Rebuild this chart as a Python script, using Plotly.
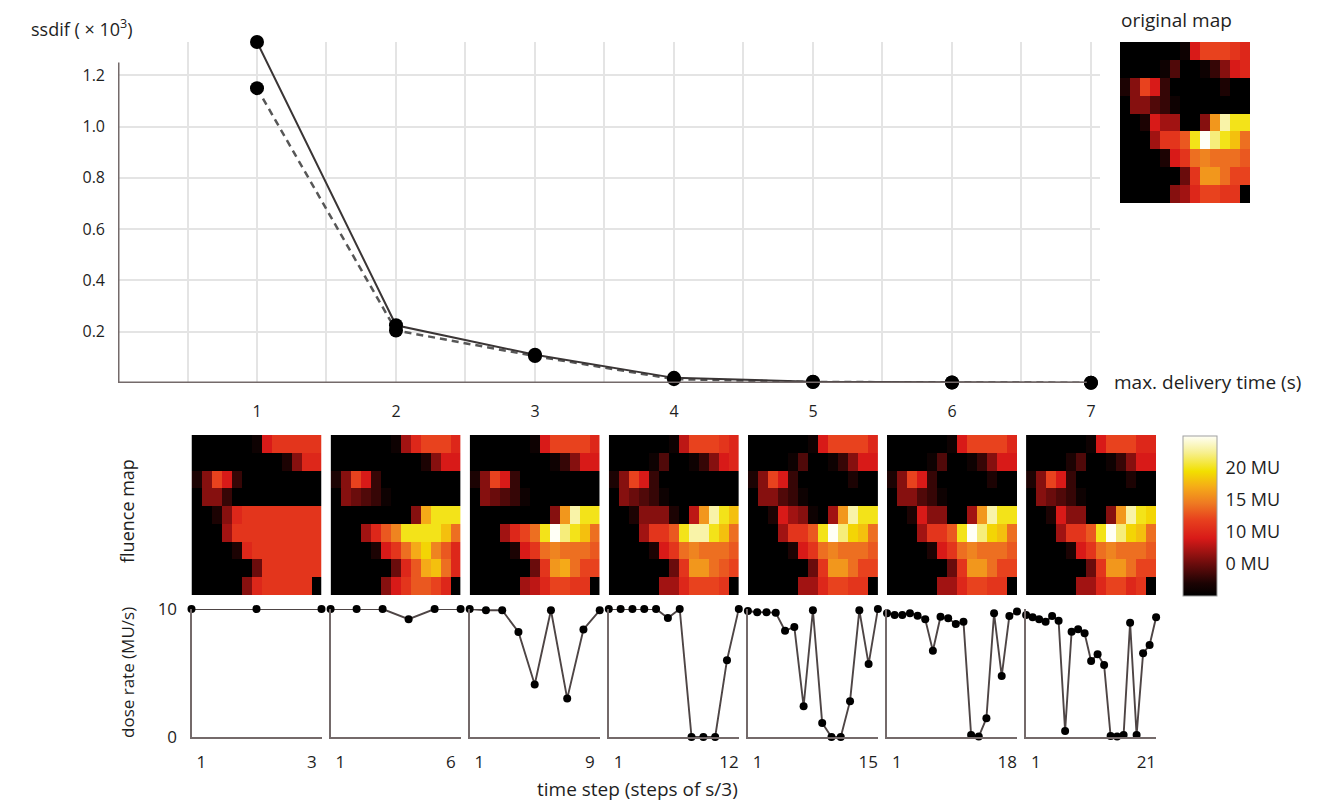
import plotly.graph_objects as go

# ---------------- data ----------------
max_time = [1, 2, 3, 4, 5, 6, 7]
ssdif_solid = [1.33, 0.225, 0.11, 0.02, 0.005, 0.002, 0.001]
ssdif_dashed = [1.15, 0.205, 0.105, 0.015, 0.004, 0.002, 0.001]
ssdif_ticks = [0.2, 0.4, 0.6, 0.8, 1.0, 1.2]

dose_t1 = [10, 10, 10]
dose_t2 = [10, 10, 10, 9.2, 10, 10]
dose_t3 = [10, 9.9, 9.9, 8.2, 4.1, 9.9, 3.0, 8.4, 9.9]
dose_t4 = [10, 10, 10, 10, 10, 9.3, 10, 0, 0, 0, 6.0, 10]
dose_t5 = [9.85, 9.75, 9.75, 9.7, 8.3, 8.6, 2.4, 9.9, 1.1, 0, 0, 2.8, 9.9, 5.7, 10]
dose_t6 = [9.66, 9.53, 9.53, 9.66, 9.48, 9.19, 6.74, 9.4, 9.27, 8.83, 9.0, 0.16,
           0.03, 1.46, 9.66, 4.77, 9.45, 9.8]
dose_t7 = [9.53, 9.35, 9.19, 9.0, 9.45, 9.09, 0.47, 8.23, 8.41, 8.1, 5.94, 6.46,
           5.63, 0.08, 0.03, 0.16, 8.93, 0.16, 6.54, 7.19, 9.35]

map_orig = [
    [0, 0, 0, 0, 0, 0, 1, 9, 12, 12, 12, 11, 10],
    [0, 0, 0, 0, 1, 4, 0, 0, 1, 3, 6, 9, 10],
    [2, 6, 12, 9, 3, 0, 0, 0, 0, 0, 2, 0, 0],
    [0, 6, 6, 4, 3, 1, 0, 0, 0, 0, 0, 0, 0],
    [0, 0, 2, 9, 7, 7, 0, 0, 6, 16, 23, 20, 20],
    [0, 0, 0, 7, 11, 11, 13, 20, 25, 22, 20, 18, 14],
    [0, 0, 0, 0, 2, 9, 11, 14, 15, 14, 14, 14, 13],
    [0, 0, 0, 0, 0, 0, 5, 11, 16, 16, 14, 12, 12],
    [0, 0, 0, 0, 0, 6, 7, 10, 12, 12, 11, 11, 0],
]
map_t1 = [
    [0, 0, 0, 0, 0, 0, 1, 9, 11, 11, 11, 11, 11],
    [0, 0, 0, 0, 0, 0, 0, 0, 0, 2, 6, 10, 10],
    [2, 6, 12, 9, 3, 0, 0, 0, 0, 0, 0, 0, 0],
    [0, 6, 6, 3, 0, 0, 0, 0, 0, 0, 0, 0, 0],
    [0, 0, 2, 6, 10, 11, 11, 11, 11, 11, 11, 11, 11],
    [0, 0, 0, 7, 11, 11, 11, 11, 11, 11, 11, 11, 11],
    [0, 0, 0, 0, 2, 10, 11, 11, 11, 11, 11, 11, 11],
    [0, 0, 0, 0, 0, 0, 5, 11, 11, 11, 11, 11, 11],
    [0, 0, 0, 0, 0, 6, 10, 11, 11, 11, 11, 11, 0],
]
map_t2 = [
    [0, 0, 0, 0, 0, 0, 1, 7, 10, 12, 12, 12, 10],
    [0, 0, 0, 0, 0, 0, 0, 0, 0, 2, 6, 9, 9],
    [2, 6, 12, 9, 3, 0, 0, 0, 0, 0, 0, 0, 0],
    [0, 6, 5, 4, 3, 1, 0, 0, 0, 0, 0, 0, 0],
    [0, 0, 0, 0, 0, 0, 0, 0, 6, 17, 20, 20, 20],
    [0, 0, 0, 7, 10, 13, 15, 20, 20, 20, 20, 18, 14],
    [0, 0, 0, 0, 2, 9, 11, 14, 17, 19, 15, 13, 10],
    [0, 0, 0, 0, 0, 0, 5, 10, 13, 17, 18, 14, 10],
    [0, 0, 0, 0, 0, 6, 9, 11, 13, 13, 12, 10, 0],
]
map_t3 = [
    [0, 0, 0, 0, 0, 0, 1, 9, 12, 12, 12, 12, 10],
    [0, 0, 0, 0, 0, 0, 0, 0, 1, 3, 6, 9, 9],
    [2, 6, 12, 9, 3, 0, 0, 0, 0, 0, 0, 0, 0],
    [0, 6, 5, 4, 3, 1, 0, 0, 0, 0, 0, 0, 0],
    [0, 0, 0, 0, 0, 0, 0, 0, 6, 16, 23, 20, 20],
    [0, 0, 0, 7, 10, 12, 14, 20, 25, 22, 20, 18, 14],
    [0, 0, 0, 0, 2, 9, 11, 14, 15, 14, 14, 14, 13],
    [0, 0, 0, 0, 0, 0, 5, 11, 16, 17, 14, 12, 12],
    [0, 0, 0, 0, 0, 7, 8, 10, 12, 12, 11, 11, 0],
]
map_t4 = [
    [0, 0, 0, 0, 0, 0, 1, 8, 12, 12, 12, 11, 10],
    [0, 0, 0, 0, 1, 4, 0, 0, 1, 3, 6, 9, 10],
    [2, 6, 12, 9, 3, 0, 0, 0, 0, 0, 0, 0, 0],
    [0, 6, 5, 4, 3, 1, 0, 0, 0, 0, 0, 0, 0],
    [0, 0, 2, 6, 6, 6, 2, 0, 8, 16, 23, 20, 18],
    [0, 0, 0, 7, 11, 11, 13, 20, 23, 23, 20, 18, 14],
    [0, 0, 0, 0, 2, 9, 11, 14, 15, 14, 14, 14, 13],
    [0, 0, 0, 0, 0, 0, 5, 11, 16, 16, 14, 13, 12],
    [0, 0, 0, 0, 0, 7, 7, 10, 12, 12, 12, 11, 0],
]
map_t5 = [
    [0, 0, 0, 0, 0, 0, 1, 9, 12, 12, 12, 12, 10],
    [0, 0, 0, 0, 1, 4, 0, 0, 1, 3, 6, 9, 9],
    [2, 6, 12, 9, 3, 0, 0, 0, 0, 0, 2, 0, 0],
    [0, 6, 6, 4, 3, 1, 0, 0, 0, 0, 0, 0, 0],
    [0, 0, 2, 9, 7, 6, 1, 0, 7, 16, 23, 20, 20],
    [0, 0, 0, 7, 11, 11, 13, 20, 25, 22, 19, 18, 14],
    [0, 0, 0, 0, 2, 9, 11, 14, 15, 14, 14, 14, 13],
    [0, 0, 0, 0, 0, 0, 5, 11, 16, 16, 14, 12, 12],
    [0, 0, 0, 0, 0, 7, 7, 10, 12, 12, 11, 11, 0],
]
map_t6 = [
    [0, 0, 0, 0, 0, 0, 1, 9, 12, 12, 12, 12, 10],
    [0, 0, 0, 0, 1, 4, 0, 0, 1, 3, 6, 9, 9],
    [2, 6, 12, 9, 3, 0, 0, 0, 0, 0, 2, 0, 0],
    [0, 6, 6, 4, 3, 1, 0, 0, 0, 0, 0, 0, 0],
    [0, 0, 2, 9, 6, 6, 0, 0, 7, 16, 23, 20, 20],
    [0, 0, 0, 7, 11, 11, 13, 20, 25, 22, 19, 18, 14],
    [0, 0, 0, 0, 2, 9, 11, 14, 15, 14, 14, 14, 13],
    [0, 0, 0, 0, 0, 0, 5, 11, 16, 16, 14, 12, 12],
    [0, 0, 0, 0, 0, 7, 7, 10, 12, 12, 11, 11, 0],
]
map_t7 = [
    [0, 0, 0, 0, 0, 0, 1, 9, 12, 12, 12, 10, 10],
    [0, 0, 0, 0, 2, 4, 0, 0, 1, 3, 6, 9, 9],
    [2, 6, 12, 9, 3, 0, 0, 0, 0, 0, 2, 0, 0],
    [0, 6, 5, 4, 3, 1, 0, 0, 0, 0, 0, 0, 0],
    [0, 0, 2, 9, 6, 6, 0, 0, 6, 16, 23, 20, 19],
    [0, 0, 0, 7, 11, 11, 13, 20, 25, 22, 19, 18, 14],
    [0, 0, 0, 0, 2, 9, 11, 14, 15, 14, 14, 14, 13],
    [0, 0, 0, 0, 0, 0, 5, 11, 16, 16, 14, 12, 12],
    [0, 0, 0, 0, 0, 7, 7, 10, 12, 12, 10, 11, 0],
]

cb_tickvals = [5, 10, 15, 20]
cb_ticktext = ["0 MU", "10 MU", "15 MU", "20 MU"]

fluence_maps = [map_t1, map_t2, map_t3, map_t4, map_t5, map_t6, map_t7]
dose_series = [dose_t1, dose_t2, dose_t3, dose_t4, dose_t5, dose_t6, dose_t7]

# ---------------- layout helpers ----------------
W, H = 1335, 803


def px(x):
    return x / W


def py(y):
    return 1 - y / H


FONT = "'Open Sans', Lato, sans-serif"
TXT = "#1e1e1e"
AXC = "#746a6a"
GRID = "#e4e4e4"

hot = [
    [0.0, "#000000"], [0.08, "#1c0303"], [0.2, "#6a0c0c"], [0.36, "#d81a18"],
    [0.48, "#e8421e"], [0.58, "#ee7a22"], [0.68, "#f5aa18"], [0.78, "#f2e000"],
    [0.9, "#f7f094"], [1.0, "#fffff6"],
]

fig = go.Figure()

# top chart
fig.add_trace(go.Scatter(
    x=max_time, y=ssdif_dashed, mode="lines+markers", xaxis="x", yaxis="y",
    line=dict(color="#575757", width=2.5, dash="7px,5px"),
    marker=dict(size=14, color="black"), cliponaxis=False, showlegend=False))
fig.add_trace(go.Scatter(
    x=max_time, y=ssdif_solid, mode="lines+markers", xaxis="x", yaxis="y",
    line=dict(color="#3a3535", width=2),
    marker=dict(size=14, color="black"), cliponaxis=False, showlegend=False))

# original map
fig.add_trace(go.Heatmap(z=map_orig, coloraxis="coloraxis", xaxis="x2", yaxis="y2"))

layout_axes = {}
layout_axes["xaxis"] = dict(
    domain=[px(118), px(1100)], range=[0, 7.065], anchor="y",
    tickvals=max_time, showgrid=True, gridcolor=GRID, gridwidth=2,
    minor=dict(dtick=0.5, tick0=0, showgrid=True, gridcolor=GRID, gridwidth=2),
    zeroline=False, showline=False, ticks="", ticklabelstandoff=17,
    automargin=False,
    tickfont=dict(size=16, family=FONT, color=TXT))
layout_axes["yaxis"] = dict(
    domain=[py(383), py(42)], range=[0, 1.33], anchor="x",
    tickvals=ssdif_ticks, tickformat=".1f", showgrid=True, gridcolor=GRID,
    gridwidth=2, zeroline=False, showline=False, ticks="", ticklabelstandoff=12,
    automargin=False,
    tickfont=dict(size=16, family=FONT, color=TXT))
layout_axes["xaxis2"] = dict(domain=[px(1120), px(1250)], range=[-0.5, 12.5],
                             anchor="y2", visible=False)
layout_axes["yaxis2"] = dict(domain=[py(203), py(42)], range=[8.5, -0.5],
                             anchor="x2", visible=False)

for i, (fm, dr) in enumerate(zip(fluence_maps, dose_series)):
    left = 191.5 + 139.1 * i
    hk = 3 + i
    dk = 10 + i
    fig.add_trace(go.Heatmap(z=fm, coloraxis="coloraxis",
                             xaxis=f"x{hk}", yaxis=f"y{hk}"))
    layout_axes[f"xaxis{hk}"] = dict(domain=[px(left), px(left + 130)],
                                     range=[-0.5, 12.5], anchor=f"y{hk}",
                                     visible=False)
    layout_axes[f"yaxis{hk}"] = dict(domain=[py(595), py(435)],
                                     range=[8.5, -0.5], anchor=f"x{hk}",
                                     visible=False)
    n = len(dr)
    steps = list(range(1, n + 1))
    fig.add_trace(go.Scatter(
        x=steps, y=dr, mode="lines+markers", xaxis=f"x{dk}", yaxis=f"y{dk}",
        line=dict(color="#4e4545", width=1.9),
        marker=dict(size=8, color="black"), cliponaxis=False, showlegend=False))
    inset = 0.075 * (n - 1)
    layout_axes[f"xaxis{dk}"] = dict(
        domain=[px(left), px(left + 130)], range=[1, n], anchor=f"y{dk}",
        tickvals=[1 + inset, n - inset], ticktext=["1", str(n)],
        showline=True, linecolor=AXC, linewidth=2, showgrid=False,
        zeroline=False, ticks="", ticklabelstandoff=9, automargin=False,
        tickfont=dict(size=17, family=FONT, color=TXT))
    layout_axes[f"yaxis{dk}"] = dict(
        domain=[py(737), py(609)], range=[0, 10], anchor=f"x{dk}",
        tickvals=[0, 10], ticktext=["0", "10"], showticklabels=(i == 0),
        showline=True, linecolor=AXC, linewidth=2, showgrid=False,
        zeroline=False, ticks="", ticklabelstandoff=9, automargin=False,
        tickfont=dict(size=17, family=FONT, color=TXT))

annotations = [
    dict(text="ssdif ( × 10<sup>3</sup>)", x=px(29), y=py(28), xanchor="left",
         yanchor="middle", font=dict(size=18)),
    dict(text="max. delivery time (s)", x=px(1112), y=py(382), xanchor="left",
         yanchor="middle", font=dict(size=19)),
    dict(text="original map", x=px(1119), y=py(20), xanchor="left",
         yanchor="middle", font=dict(size=19)),
    dict(text="fluence map", x=px(127), y=py(511), xanchor="center",
         yanchor="middle", textangle=-90, font=dict(size=18)),
    dict(text="dose rate (MU/s)", x=px(127), y=py(673), xanchor="center",
         yanchor="middle", textangle=-90, font=dict(size=17)),
    dict(text="time step (steps of s/3)", x=px(637), y=py(789),
         xanchor="center", yanchor="middle", font=dict(size=19)),
]
for a in annotations:
    a.update(xref="paper", yref="paper", showarrow=False)
    a["font"].update(family=FONT, color=TXT)

shapes = [
    dict(type="line", xref="x", yref="y", x0=0, x1=6.97, y0=0, y1=0,
         line=dict(color=AXC, width=3), layer="above"),
    dict(type="line", xref="x", yref="y", x0=0, x1=0, y0=0, y1=1.25,
         line=dict(color=AXC, width=3), layer="above"),
]

fig.update_layout(
    width=W, height=H, margin=dict(l=0, r=0, t=0, b=0, autoexpand=False),
    paper_bgcolor="white", plot_bgcolor="white",
    font=dict(family=FONT, color=TXT),
    showlegend=False,
    annotations=annotations, shapes=shapes,
    coloraxis=dict(
        cmin=0, cmax=25, colorscale=hot,
        colorbar=dict(
            x=px(1183), xanchor="left", y=py(596), yanchor="bottom",
            len=160 / H, lenmode="fraction", thickness=34,
            thicknessmode="pixels", outlinewidth=1, outlinecolor="#a0a0a0",
            xpad=0, ypad=0, tickvals=cb_tickvals, ticktext=cb_ticktext,
            ticks="outside", ticklen=5, tickcolor="rgba(0,0,0,0)",
            tickfont=dict(size=18, family=FONT, color=TXT))),
    **layout_axes,
)

fig.write_html(
    "out.html",
    config={"displayModeBar": False},
    post_script="document.body.style.margin='0';document.body.style.overflow='hidden';",
)
